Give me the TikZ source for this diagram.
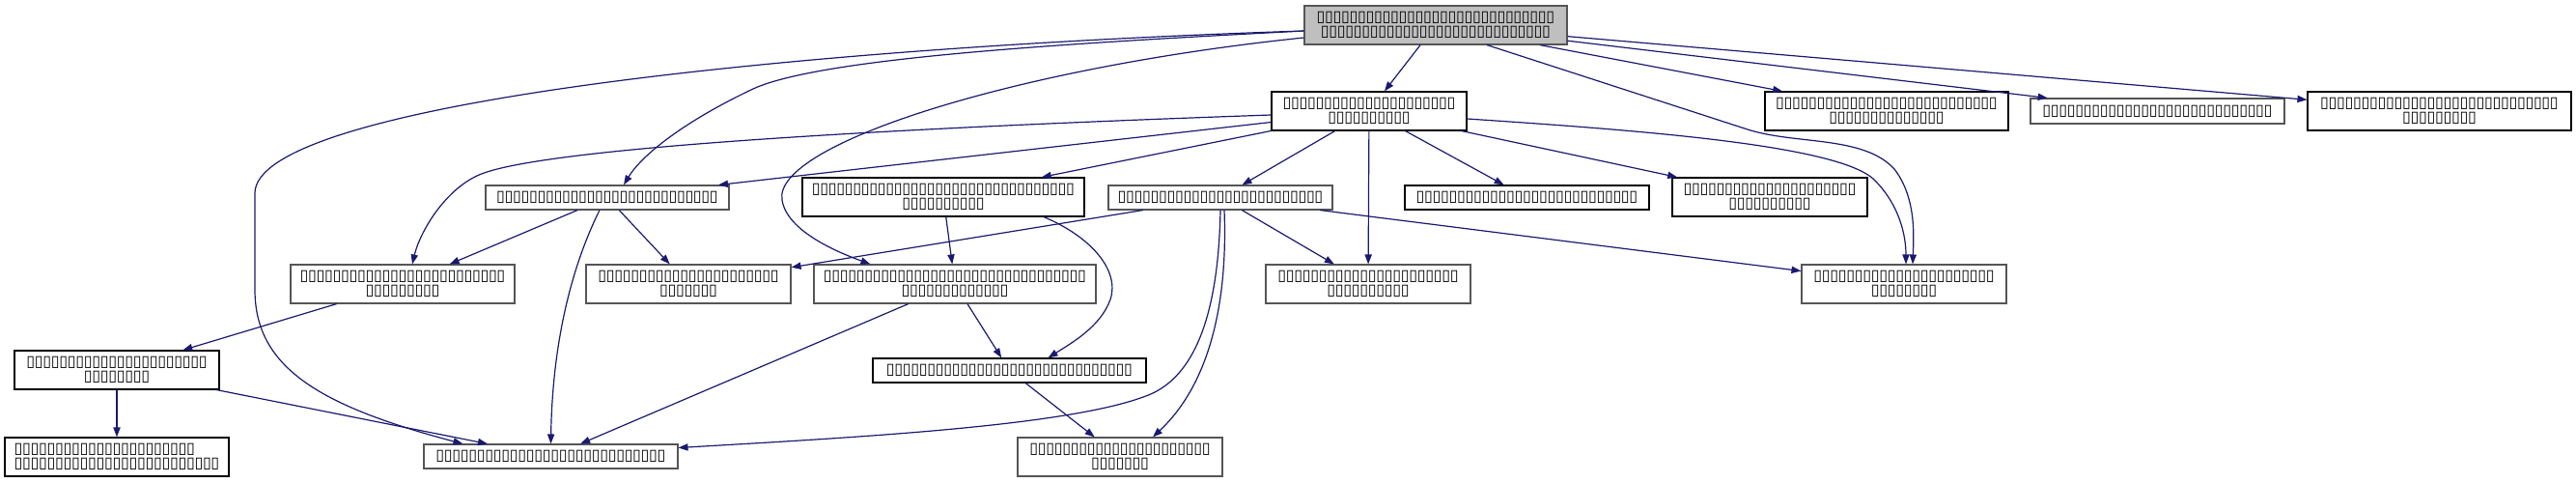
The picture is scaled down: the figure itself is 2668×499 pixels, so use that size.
\documentclass[tikz,border=0pt]{standalone}
\usepackage{fontspec}
\newfontfamily\tfont{DejaVu Sans}
\usetikzlibrary{arrows.meta,calc}
\definecolor{edgeblue}{HTML}{191970}
\definecolor{rootfill}{HTML}{BFBFBF}
\definecolor{bordergray}{HTML}{555555}
\newcommand\tofu[1]{\foreach\k in {1,...,#1}{\makebox[4.25pt]{▯}}}
\tikzset{
  box/.style={draw=black, fill=white, line width=0.55pt, inner sep=0pt, align=center,
    font=\tfont\fontsize{8}{7.35}\selectfont},
  gbox/.style={box, draw=bordergray},
  rootbox/.style={gbox, fill=rootfill},
  lbox/.style={box, align=left},
  edge/.style={draw=edgeblue, line width=0.6pt, -{Triangle[length=5pt,width=3.6pt]}},
}
\begin{document}
\begin{tikzpicture}[x=0.5pt,y=-0.5pt]
\useasboundingbox (0,0) rectangle (2668,499);
% nodes
\node[rootbox, minimum width=136pt, minimum height=20pt] (T) at (1487,26) {\tofu{29}\\\tofu{28}};
\node[box, minimum width=101pt, minimum height=20pt] (N2) at (1418,115) {\tofu{21}\\\tofu{10}};
\node[box, minimum width=126pt, minimum height=20pt] (R1) at (1954,115) {\tofu{27}\\\tofu{14}};
\node[gbox, minimum width=131.5pt, minimum height=13pt] (R2) at (2234.5,115) {\tofu{28}};
\node[box, minimum width=136.5pt, minimum height=20pt] (R3) at (2526.5,115) {\tofu{29}\\\tofu{9}};
\node[gbox, minimum width=126pt, minimum height=12.5pt] (A) at (629,204.5) {\tofu{27}};
\node[box, minimum width=146pt, minimum height=20pt] (B) at (977,204) {\tofu{32}\\\tofu{10}};
\node[gbox, minimum width=116pt, minimum height=12.5pt] (C) at (1264,204.5) {\tofu{25}};
\node[box, minimum width=126.5pt, minimum height=12.5pt] (D) at (1581.5,204.5) {\tofu{27}};
\node[box, minimum width=101pt, minimum height=20pt] (E) at (1833,204) {\tofu{21}\\\tofu{10}};
\node[gbox, minimum width=116pt, minimum height=20pt] (J) at (417,294) {\tofu{25}\\\tofu{9}};
\node[gbox, minimum width=106pt, minimum height=20pt] (H) at (713,294) {\tofu{22}\\\tofu{7}};
\node[gbox, minimum width=146pt, minimum height=20pt] (F) at (989,294) {\tofu{32}\\\tofu{13}};
\node[gbox, minimum width=106pt, minimum height=20pt] (G) at (1417,294) {\tofu{22}\\\tofu{10}};
\node[gbox, minimum width=106pt, minimum height=20pt] (I) at (1972,294) {\tofu{22}\\\tofu{8}};
\node[box, minimum width=106pt, minimum height=20pt] (K) at (121,383) {\tofu{22}\\\tofu{8}};
\node[box, minimum width=141.5pt, minimum height=12.5pt] (N) at (1045.5,383.5) {\tofu{30}};
\node[lbox, minimum width=116pt, minimum height=20pt] (L) at (121,473) {\tofu{22}\\\tofu{25}};
\node[gbox, minimum width=131.5pt, minimum height=12.5pt] (M) at (570.5,472.5) {\tofu{28}};
\node[gbox, minimum width=106pt, minimum height=20pt] (O) at (1160,473) {\tofu{22}\\\tofu{7}};
% edges from T
\draw[edge] (T) -- (N2);
\draw[edge] (T) -- (R1);
\draw[edge] (T) -- (R2);
\draw[edge] (T) -- (R3);
\draw[edge] ($(T.west)+(0,6)$) .. controls (1100,45) and (850,60) .. (780,92) .. controls (710,125) and (665,160) .. ($(A.north)+(17,0)$);
\draw[edge] ($(T.west)+(0,6)$) .. controls (800,50) and (264,110) .. (264,200) -- (264,300) .. controls (264,380) and (330,420) .. ($(M.north west)+(41,0)$);
\draw[edge] ($(T.west)+(0,13)$) .. controls (1050,70) and (800,150) .. (810,207) .. controls (815,240) and (870,262) .. ($(F.north west)+(59,0)$);
\draw[edge] ($(T.south)+(53,0)$) -- (1810,134) .. controls (1860,150) and (1930,140) .. (1962,175) .. controls (1985,205) and (1982,245) .. ($(I.north)+(9,0)$);
% edges from N2
\draw[edge] ($(N2.east)+(0,8)$) .. controls (1700,135) and (1900,150) .. (1940,185) .. controls (1968,212) and (1974,245) .. ($(I.north)+(2,0)$);
\draw[edge] ($(N2.west)+(0,4)$) .. controls (1000,130) and (560,150) .. (494,182) .. controls (460,198) and (435,240) .. ($(J.north)+(10,0)$);
\draw[edge] (N2) -- (A);
\draw[edge] (N2) -- (B);
\draw[edge] (N2) -- (C);
\draw[edge] (N2) -- (G);
\draw[edge] (N2) -- (D);
\draw[edge] (N2) -- (E);
% edges from A
\draw[edge] (A) -- (J);
\draw[edge] (A) -- (H);
\draw[edge] ($(A.south)+(-8,0)$) .. controls (590,280) and (572,360) .. (M.north);
% edges from B
\draw[edge] (B) -- (F);
\draw[edge] ($(B.south)+(104,0)$) .. controls (1130,245) and (1160,280) .. (1150,310) .. controls (1140,338) and (1110,355) .. ($(N.north)+(40,0)$);
% edges from C
\draw[edge] (C) -- (H);
\draw[edge] (C) -- (G);
\draw[edge] (C) -- (I);
\draw[edge] (C.south) .. controls (1262,320) and (1240,385) .. (1194,407) .. controls (1120,440) and (900,452) .. ($(M.east)+(0,-9)$);
\draw[edge] ($(C.south)+(4,0)$) .. controls (1272,320) and (1250,400) .. ($(O.north)+(34,0)$);
% remaining
\draw[edge] (F) -- (M);
\draw[edge] (F) -- (N);
\draw[edge] (N) -- (O);
\draw[edge] (J) -- (K);
\draw[edge] (K) -- (L);
\draw[edge] (K) -- (M);
\end{tikzpicture}
\end{document}
